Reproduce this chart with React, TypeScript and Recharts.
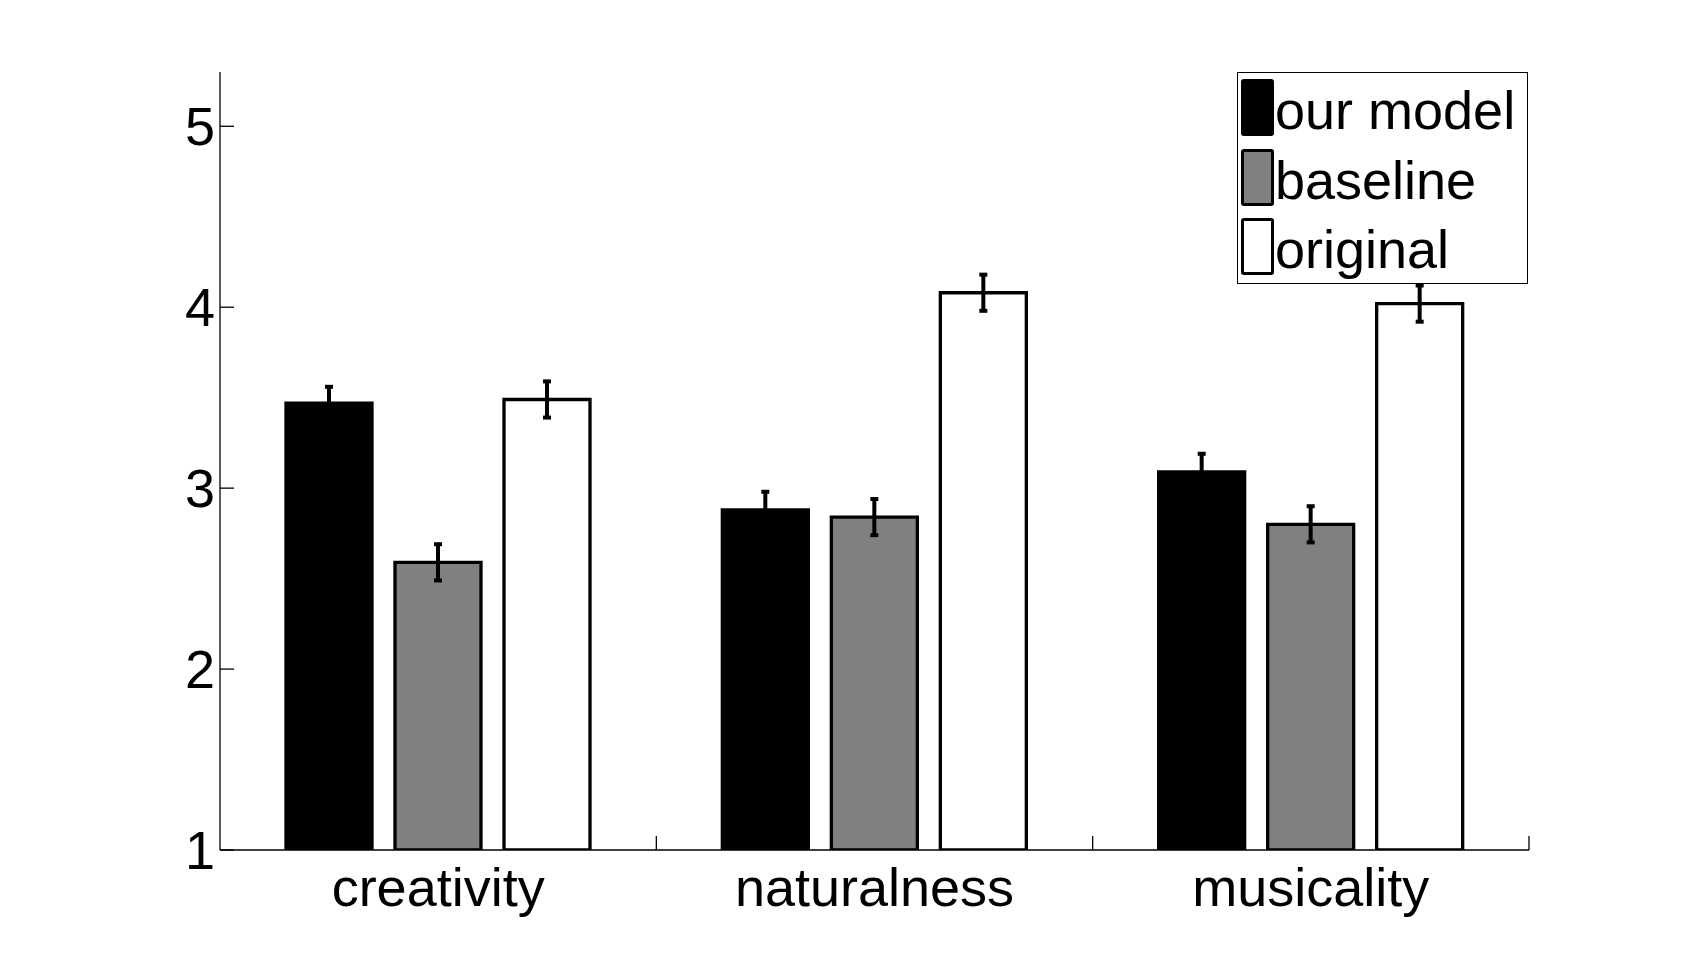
import { BarChart, Bar, XAxis, YAxis, ErrorBar, Legend } from "recharts"

// values
const categories = ["creativity", "naturalness", "musicality"]
const ourModel = [3.47, 2.88, 3.09]
const ourModelErr = [0.09, 0.1, 0.1]
const baseline = [2.59, 2.84, 2.8]
const baselineErr = [0.1, 0.1, 0.1]
const original = [3.49, 4.08, 4.02]
const originalErr = [0.1, 0.1, 0.1]
const yTicks = [1, 2, 3, 4, 5]

const series = [
  { key: "ours", errKey: "oursErr", name: "our model", fill: "#000000" },
  { key: "baseline", errKey: "baselineErr", name: "baseline", fill: "#808080" },
  { key: "original", errKey: "originalErr", name: "original", fill: "#ffffff" },
]

const data = categories.map((name, i) => ({
  name,
  ours: ourModel[i],
  oursErr: ourModelErr[i],
  baseline: baseline[i],
  baselineErr: baselineErr[i],
  original: original[i],
  originalErr: originalErr[i],
}))

const FONT = '"Liberation Sans", Arial, Helvetica, sans-serif'
const CHART_W = 1689
const CHART_H = 956
const MARGIN = { top: 72, right: 160, bottom: 0, left: 0 }
const Y_AXIS_W = 220
const X_AXIS_H = 106
const PLOT_W = CHART_W - MARGIN.left - MARGIN.right - Y_AXIS_W
const X_TICK_MARGIN = 18
const TICK_LEN = 14

// category label at the band centre, small inward tick at the band's right edge
function CategoryTick(props: any) {
  const { x, y, payload } = props
  const band = PLOT_W / categories.length
  const axisY = y - X_TICK_MARGIN
  const edge = x + band / 2
  return (
    <g>
      <line x1={edge} y1={axisY} x2={edge} y2={axisY - TICK_LEN} stroke="#000" strokeWidth={1.3} />
      <text x={x} y={y} dy="0.71em" textAnchor="middle" fontSize={54} fill="#000" fontFamily={FONT}>
        {payload.value}
      </text>
    </g>
  )
}

// legend in series order (recharts sorts its payload by name)
function LegendBox() {
  return (
    <div
      style={{
        boxSizing: "border-box",
        width: 291,
        height: 212,
        border: "1.3px solid #000",
        background: "#fff",
      }}
    >
      {series.map((s) => (
        <div key={s.key} style={{ display: "flex", alignItems: "center", height: 69.5 }}>
          <div
            style={{
              boxSizing: "border-box",
              width: 33,
              height: 57,
              marginLeft: 3,
              border: "3.3px solid #000",
              borderRadius: 3,
              background: s.fill,
            }}
          />
          <span
            style={{
              fontFamily: FONT,
              fontSize: 54,
              lineHeight: "69.5px",
              marginLeft: 1,
              position: "relative",
              top: 3,
              color: "#000",
              whiteSpace: "nowrap",
            }}
          >
            {s.name}
          </span>
        </div>
      ))}
    </div>
  )
}

export default function App() {
  return (
    <div style={{ position: "absolute", left: 0, top: 0, width: CHART_W, height: CHART_H, background: "#fff" }}>
      <BarChart
        width={CHART_W}
        height={CHART_H}
        data={data}
        margin={MARGIN}
        barSize={86}
        barGap={23}
        style={{ fontFamily: FONT }}
      >
        <XAxis
          dataKey="name"
          height={X_AXIS_H}
          axisLine={{ stroke: "#000", strokeWidth: 1.3 }}
          tickLine={false}
          tickSize={0}
          tickMargin={X_TICK_MARGIN}
          tick={<CategoryTick />}
          interval={0}
        />
        <YAxis
          width={Y_AXIS_W}
          domain={[1, 5.3]}
          ticks={yTicks}
          allowDataOverflow
          axisLine={{ stroke: "#000", strokeWidth: 1.3 }}
          tickLine={{ stroke: "#000", strokeWidth: 1.3 }}
          tickSize={-TICK_LEN}
          tickMargin={19}
          tick={{ fontSize: 54, fill: "#000", fontFamily: FONT }}
        />
        <Legend
          layout="vertical"
          align="center"
          verticalAlign="middle"
          content={<LegendBox />}
          wrapperStyle={{ left: 1237, top: 72, width: 291, height: 212 }}
        />
        {series.map((s) => (
          <Bar
            key={s.key}
            dataKey={s.key}
            name={s.name}
            fill={s.fill}
            stroke="#000"
            strokeWidth={3.3}
            isAnimationActive={false}
          >
            <ErrorBar
              dataKey={s.errKey}
              direction="y"
              width={4}
              stroke="#000"
              strokeWidth={4}
              isAnimationActive={false}
            />
          </Bar>
        ))}
      </BarChart>
    </div>
  )
}
